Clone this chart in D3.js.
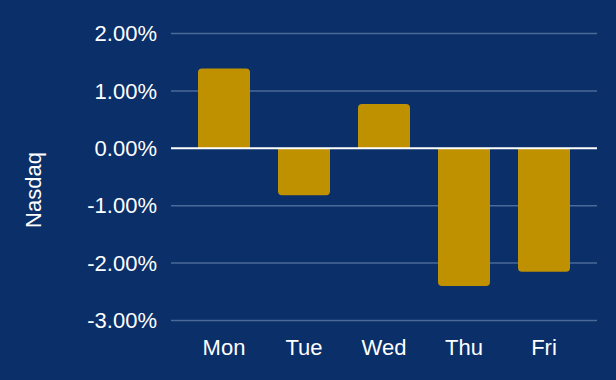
<!DOCTYPE html>
<html><head><meta charset="utf-8">
<script src="https://cdn.jsdelivr.net/npm/d3@7"></script>
<style>html,body{margin:0;padding:0;background:#0a2f69;}svg{display:block;}</style>
</head><body>
<svg id="c" width="616" height="380"></svg>
<script>
const days = ["Mon","Tue","Wed","Thu","Fri"];
const values = [1.39, -0.82, 0.77, -2.40, -2.15];
const yTicks = [2, 1, 0, -1, -2, -3];
const yTitle = "Nasdaq";

const W = 616, H = 380;
const svg = d3.select("#c");
svg.append("rect").attr("width", W).attr("height", H).attr("fill", "#0a2f69");

const plotLeft = 171, plotRight = 597;
const y = d3.scaleLinear().domain([-3, 2]).range([320.5, 33.5]);
const x = d3.scaleBand().domain(days).range([184, 584]).paddingInner(0.35).paddingOuter(0.175);

const font = "'Liberation Sans', Arial, sans-serif";
const fmt = d => (d < 0 ? "-" : "") + Math.abs(d).toFixed(2) + "%";

// grid
svg.append("g").selectAll("line").data(yTicks.filter(d => d !== 0)).join("line")
  .attr("x1", plotLeft).attr("x2", plotRight)
  .attr("y1", d => y(d)).attr("y2", d => y(d))
  .attr("stroke", "#4b6a99").attr("stroke-width", 1.5);

// tick labels
svg.append("g").selectAll("text").data(yTicks).join("text")
  .attr("x", 157).attr("y", d => y(d)).attr("dy", "0.35em")
  .attr("text-anchor", "end").attr("fill", "#ffffff")
  .attr("font-family", font).attr("font-size", 22)
  .text(fmt);

// bars with rounded outer end
const r = 4;
function barPath(d, i) {
  const x0 = x(days[i]), w = x.bandwidth();
  const y0 = y(0), y1 = y(d);
  if (d >= 0) {
    return `M${x0},${y0}V${y1 + r}Q${x0},${y1} ${x0 + r},${y1}H${x0 + w - r}Q${x0 + w},${y1} ${x0 + w},${y1 + r}V${y0}Z`;
  } else {
    return `M${x0},${y0}V${y1 - r}Q${x0},${y1} ${x0 + r},${y1}H${x0 + w - r}Q${x0 + w},${y1} ${x0 + w},${y1 - r}V${y0}Z`;
  }
}
svg.append("g").selectAll("path").data(values).join("path")
  .attr("d", (d, i) => barPath(d, i))
  .attr("fill", "#bf9000");

// zero line
svg.append("line").attr("x1", plotLeft).attr("x2", plotRight)
  .attr("y1", y(0)).attr("y2", y(0))
  .attr("stroke", "#ffffff").attr("stroke-width", 2);

// x labels
svg.append("g").selectAll("text").data(days).join("text")
  .attr("x", d => x(d) + x.bandwidth() / 2).attr("y", 355)
  .attr("text-anchor", "middle").attr("fill", "#ffffff")
  .attr("font-family", font).attr("font-size", 22)
  .text(d => d);

// y title
svg.append("text")
  .attr("transform", "translate(41,190) rotate(-90)")
  .attr("text-anchor", "middle").attr("fill", "#ffffff")
  .attr("font-family", font).attr("font-size", 22)
  .text(yTitle);
</script>
</body></html>
